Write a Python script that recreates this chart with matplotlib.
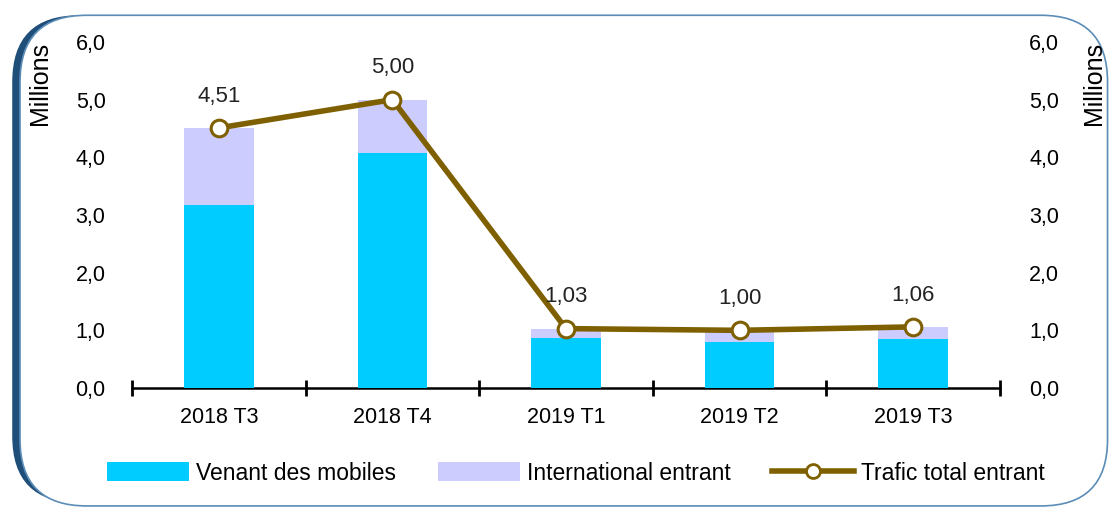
import matplotlib
matplotlib.use("Agg")
import matplotlib.pyplot as plt
from matplotlib.patches import FancyBboxPatch, Patch
from matplotlib.lines import Line2D
import numpy as np

plt.rcParams['font.family'] = ['Liberation Sans', 'DejaVu Sans']

categories = ['2018 T3', '2018 T4', '2019 T1', '2019 T2', '2019 T3']
mobiles = [3.17, 4.07, 0.86, 0.79, 0.85]
total = [4.51, 5.00, 1.03, 1.00, 1.06]
international = [t - m for t, m in zip(total, mobiles)]
total_labels = ['4,51', '5,00', '1,03', '1,00', '1,06']
yticks = [0, 1, 2, 3, 4, 5, 6]
ytick_labels = ['0,0', '1,0', '2,0', '3,0', '4,0', '5,0', '6,0']

c_mob = '#00CCFF'
c_int = '#CCCCFF'
c_line = '#7F6000'

fig = plt.figure(figsize=(11.12, 5.09), dpi=100)

# rounded frame with dark left edge
shadow = FancyBboxPatch((0.011, 0.012), 0.978, 0.958, boxstyle="round,pad=0,rounding_size=0.06",
                        transform=fig.transFigure, facecolor='#1F4E79', edgecolor='none',
                        mutation_aspect=1112 / 509, zorder=-2)
frame = FancyBboxPatch((0.018, 0.006), 0.978, 0.964, boxstyle="round,pad=0,rounding_size=0.06",
                       transform=fig.transFigure, facecolor='white', edgecolor='#5B8DB8', lw=1.2,
                       mutation_aspect=1112 / 509, zorder=-1)
fig.patches.extend([shadow, frame])

ax = fig.add_axes([0.1187, 0.2377, 0.7805, 0.6798])
ax.patch.set_alpha(0)
x = np.arange(len(categories))
ax.bar(x, mobiles, width=0.4, color=c_mob, zorder=2)
ax.bar(x, international, width=0.4, bottom=mobiles, color=c_int, zorder=2)
ax.plot(x, total, color=c_line, lw=4, marker='o', markersize=12, markerfacecolor='white',
        markeredgecolor=c_line, markeredgewidth=2.2, zorder=3)
for xi, t, lab in zip(x, total, total_labels):
    ax.text(xi, t + 0.55, lab, ha='center', va='center', fontsize=16, color='#222222', zorder=4)

ax.set_xlim(-0.5, len(categories) - 0.5)
ax.set_ylim(0, 6)
ax.set_yticks(yticks)
ax.set_yticklabels(ytick_labels, fontsize=15.5)
ax.tick_params(axis='y', length=0, pad=19)
ax.set_xticks(x)
ax.set_xticklabels(categories, fontsize=15.5)
ax.set_xticks(np.arange(-0.5, len(categories)), minor=True)
ax.tick_params(axis='x', which='major', length=0, pad=14)
ax.tick_params(axis='x', which='minor', length=12, width=2, direction='inout')
for s in ['top', 'right', 'left']:
    ax.spines[s].set_visible(False)
ax.spines['bottom'].set_linewidth(1.8)
ax.spines['bottom'].set_zorder(1)
ax.text(-0.106, 1.0, 'Millions', transform=ax.transAxes, rotation=90, ha='center', va='top', fontsize=18)

ax2 = ax.twinx()
ax2.set_ylim(0, 6)
ax2.set_yticks(yticks)
ax2.set_yticklabels(ytick_labels, fontsize=15.5)
ax2.tick_params(axis='y', length=0, pad=21)
for s in ax2.spines.values():
    s.set_visible(False)
ax2.text(1.108, 1.0, 'Millions', transform=ax.transAxes, rotation=90, ha='center', va='top', fontsize=18)

handles = [Patch(facecolor=c_mob, edgecolor='none'),
           Patch(facecolor=c_int, edgecolor='none'),
           Line2D([0], [0], color=c_line, lw=4, marker='o', markersize=10, markerfacecolor='white',
                  markeredgecolor=c_line, markeredgewidth=2)]
fig.legend(handles, ['Venant des mobiles', 'International entrant', 'Trafic total entrant'],
           loc='center', bbox_to_anchor=(0.518, 0.07), ncol=3, frameon=False, fontsize=16.5,
           handlelength=3.6, handleheight=0.9, columnspacing=1.8, handletextpad=0.3)

fig.savefig('out.png', dpi=100)
